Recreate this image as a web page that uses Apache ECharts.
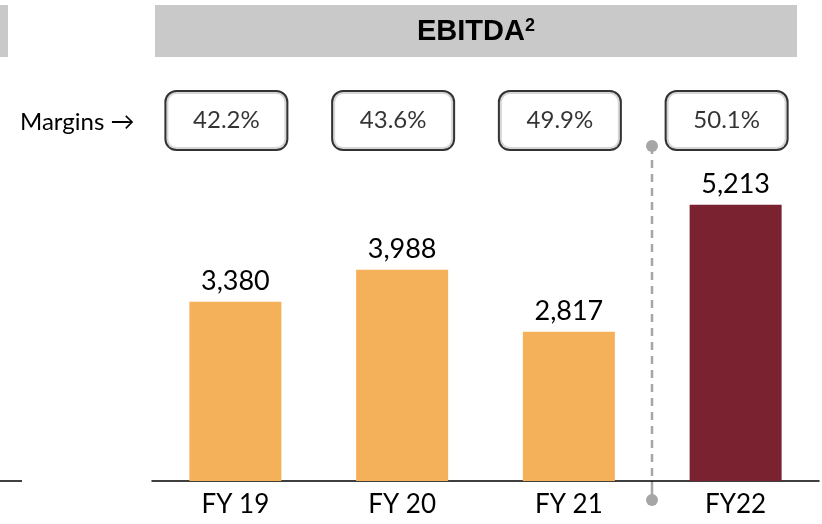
<!DOCTYPE html>
<html>
<head>
<meta charset="utf-8">
<script src="https://cdn.jsdelivr.net/npm/echarts@6/dist/echarts.min.js"></script>
<style>
  html, body { margin: 0; padding: 0; background: #fff; }
  #main { width: 822px; height: 524px; }
</style>
</head>
<body>
<div id="main"></div>
<script>
// EBITDA by year
var years = ['FY 19', 'FY 20', 'FY 21', 'FY22'];
var ebitda = [3380, 3988, 2817, 5213];
var margins = ['42.2%', '43.6%', '49.9%', '50.1%'];
var barColors = ['#F5B05A', '#F5B05A', '#F5B05A', '#7B2230'];
var marginRow = 6800; // where the margin boxes sit on the value axis

var myChart = echarts.init(document.getElementById('main'));
var font = 'Lato, "Open Sans", sans-serif';

var option = {
    backgroundColor: '#ffffff',
    animation: false,
    grid: { left: 152, right: 3, top: 110, bottom: 43 },
    xAxis: {
        type: 'category',
        data: years,
        axisTick: { show: false },
        axisLine: { lineStyle: { color: '#000', width: 1.5 } },
        axisLabel: { color: '#000', fontSize: 26, fontFamily: font, margin: 11 }
    },
    yAxis: { type: 'value', min: 0, max: 7000, show: false, splitLine: { show: false } },
    series: [{
        type: 'bar',
        barWidth: 92,
        data: ebitda.map(function(v, i) {
            return { value: v, itemStyle: { color: barColors[i] } };
        }),
        label: {
            show: true,
            position: 'top',
            distance: 7,
            color: '#000',
            fontSize: 27,
            fontFamily: font,
            formatter: function(p) { return p.value.toLocaleString('en-US'); }
        }
    }, {
        type: 'scatter',
        symbolSize: 0,
        data: margins.map(function(m, i) { return [years[i], marginRow]; }),
        label: {
            show: true,
            position: 'inside',
            offset: [-9, 0],
            formatter: function(p) { return margins[p.dataIndex]; },
            color: '#000',
            fontSize: 24,
            fontFamily: font,
            width: 120,
            height: 57,
            lineHeight: 57,
            align: 'center',
            backgroundColor: '#fff',
            borderColor: '#000',
            borderWidth: 2,
            borderRadius: 10
        }
    }],
    graphic: [
        { type: 'rect', shape: { x: 0, y: 5, width: 8, height: 52 }, style: { fill: '#c9c9c9' } },
        { type: 'rect', shape: { x: 155, y: 5, width: 642, height: 52 }, style: { fill: '#c9c9c9' } },
        {
            type: 'text', x: 476, y: 32,
            style: {
                text: '{a|EBITDA}{b|2}',
                rich: {
                    a: { fontFamily: 'Arial, "Liberation Sans"', fontWeight: 'bold', fontSize: 29, fill: '#000' },
                    b: { fontFamily: 'Arial, "Liberation Sans"', fontWeight: 'bold', fontSize: 18, fill: '#000', verticalAlign: 'top', padding: [0, 0, 12, 0] }
                },
                align: 'center', verticalAlign: 'middle'
            }
        },
        {
            type: 'text', x: 20, y: 122,
            style: { text: 'Margins \u2192', fontFamily: font, fontSize: 24, fill: '#000', verticalAlign: 'middle' }
        },
        { type: 'line', shape: { x1: 0, y1: 481, x2: 22, y2: 481 }, style: { stroke: '#000', lineWidth: 1.5 } },
        { type: 'line', shape: { x1: 652, y1: 146, x2: 652, y2: 478 }, style: { stroke: '#a6a6a6', lineWidth: 2.5, lineDash: [8, 6] } },
        { type: 'line', shape: { x1: 652, y1: 481, x2: 652, y2: 498 }, style: { stroke: '#a6a6a6', lineWidth: 2.5 } },
        { type: 'circle', shape: { cx: 652, cy: 146, r: 6 }, style: { fill: '#a6a6a6' } },
        { type: 'circle', shape: { cx: 652, cy: 500, r: 6 }, style: { fill: '#a6a6a6' } }
    ]
};
myChart.setOption(option);
</script>
</body>
</html>
